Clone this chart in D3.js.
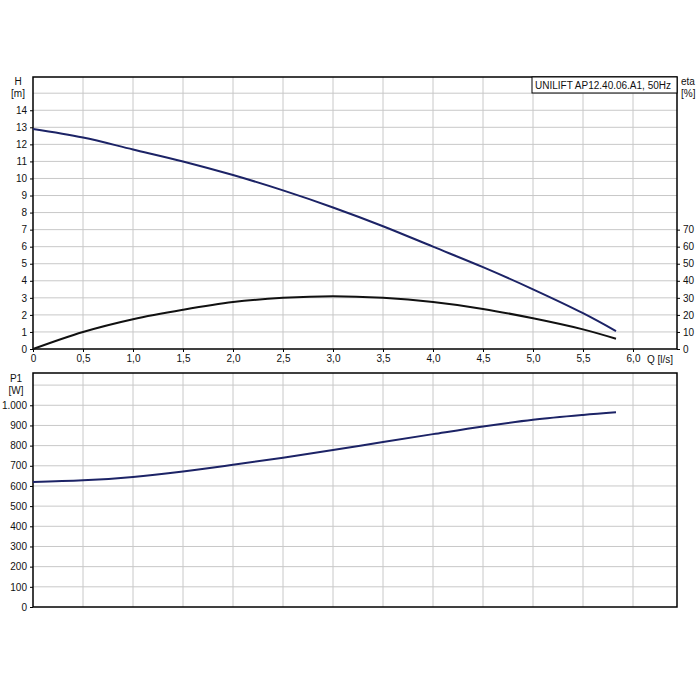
<!DOCTYPE html>
<html><head><meta charset="utf-8">
<script src="https://cdn.jsdelivr.net/npm/d3@7"></script>
<style>body{margin:0;background:#fff}text{font-family:Arial,"Liberation Sans",sans-serif;font-size:10px;fill:#111}</style>
</head><body><svg width="700" height="700"></svg>
<script>
const flow = [0, 0.5, 1, 1.5, 2, 2.5, 3, 3.5, 4, 4.5, 5, 5.5, 5.83];
const head = [12.9, 12.4, 11.7, 11.0, 10.2, 9.3, 8.3, 7.2, 6.0, 4.8, 3.5, 2.1, 1.05];
const eta = [0, 10, 17.5, 23, 27.5, 30, 31, 30, 27.5, 23.5, 18, 11.5, 6];
const power = [620, 628, 645, 672, 705, 740, 778, 818, 857, 895, 928, 952, 965];
const qTicks = [0, 0.5, 1, 1.5, 2, 2.5, 3, 3.5, 4, 4.5, 5, 5.5, 6];
const hTicks = d3.range(0, 15);
const etaTicks = d3.range(0, 80, 10);
const pTicks = d3.range(0, 1100, 100);

const svg = d3.select('svg');
const L = 33, R = 677;
const x = d3.scaleLinear().domain([0, 6.44]).range([L, R]);
const yH = d3.scaleLinear().domain([0, 15.95]).range([349, 77]);
const yEta = d3.scaleLinear().domain([0, 159.5]).range([349, 77]);
const yP = d3.scaleLinear().domain([0, 1160]).range([607, 373]);
const fmt = v => v.toFixed(1).replace('.', ',');

function grid(yScale, yVals, top, bot) {
  const g = svg.append('g').attr('stroke', '#c8c8c8').attr('stroke-width', 1);
  g.selectAll('.v').data(qTicks.slice(1)).enter().append('line')
    .attr('x1', d => x(d)).attr('x2', d => x(d)).attr('y1', top).attr('y2', bot);
  g.selectAll('.h').data(yVals).enter().append('line')
    .attr('x1', L).attr('x2', R).attr('y1', d => yScale(d)).attr('y2', d => yScale(d));
  svg.append('rect').attr('x', L).attr('y', top).attr('width', R - L).attr('height', bot - top)
    .attr('fill', 'none').attr('stroke', '#000').attr('stroke-width', 1.5);
}
grid(yH, d3.range(1, 16), 77, 349);
grid(yP, d3.range(100, 1200, 100), 373, 607);

svg.append('g').attr('transform', `translate(${L},0)`)
  .call(d3.axisLeft(yH).tickValues(hTicks).tickSize(3).tickFormat(d3.format('d')))
  .call(g => g.select('.domain').remove());
svg.append('g').attr('transform', `translate(${L},0)`)
  .call(d3.axisLeft(yP).tickValues(pTicks).tickSize(3).tickFormat(d => d === 1000 ? '1.000' : d))
  .call(g => g.select('.domain').remove());
svg.append('g').attr('transform', `translate(${R},0)`)
  .call(d3.axisRight(yEta).tickValues(etaTicks).tickSize(3))
  .call(g => g.select('.domain').remove());
svg.append('g').attr('transform', 'translate(0,349)')
  .call(d3.axisBottom(x).tickValues(qTicks).tickSize(3).tickFormat(d => d === 0 ? '0' : fmt(d)))
  .call(g => g.select('.domain').remove());
svg.selectAll('.tick text').attr('font-size', 10).attr('fill', '#111');

svg.append('text').attr('x', 18).attr('y', 85).attr('text-anchor', 'middle').text('H');
svg.append('text').attr('x', 18).attr('y', 97).attr('text-anchor', 'middle').text('[m]');
svg.append('text').attr('x', 16).attr('y', 382).attr('text-anchor', 'middle').text('P1');
svg.append('text').attr('x', 16).attr('y', 394).attr('text-anchor', 'middle').text('[W]');
svg.append('text').attr('x', 681).attr('y', 85).text('eta');
svg.append('text').attr('x', 681).attr('y', 97).text('[%]');
svg.append('text').attr('x', 647).attr('y', 363).text('Q [l/s]');

svg.append('rect').attr('x', 532).attr('y', 77).attr('width', 145).attr('height', 16)
  .attr('fill', '#fff').attr('stroke', '#000');
svg.append('text').attr('x', 535).attr('y', 89).text('UNILIFT AP12.40.06.A1, 50Hz');

function curve(vals, yScale, color) {
  const line = d3.line().x((d, i) => x(flow[i])).y(d => yScale(d)).curve(d3.curveCatmullRom);
  svg.append('path').datum(vals).attr('d', line).attr('fill', 'none')
    .attr('stroke', color).attr('stroke-width', 2);
}
curve(head, yH, '#1c2366');
curve(eta, yEta, '#111');
curve(power, yP, '#1c2366');
</script></body></html>
